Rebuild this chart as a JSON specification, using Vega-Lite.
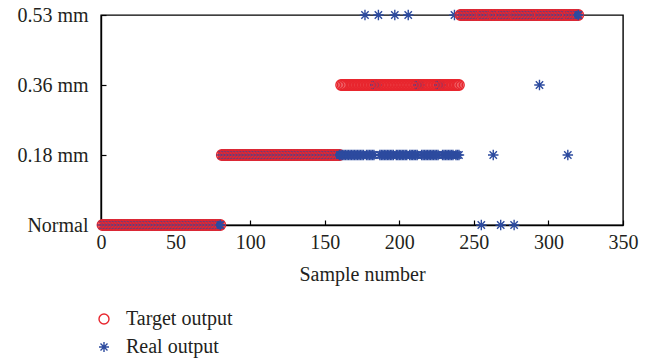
{
"$schema": "https://vega.github.io/schema/vega-lite/v6.json",
"width": 522, "height": 210,
"autosize": {"type": "none"},
"padding": {"left": 101, "top": 15, "right": 35, "bottom": 137},
"background": "white",
"config": {"view": {"stroke": "black", "strokeWidth": 1.4}, "font": "Liberation Serif"},
"data": {"values": [
{"n":1,"t":0,"r":0},{"n":2,"t":0,"r":0},{"n":3,"t":0,"r":0},{"n":4,"t":0,"r":0},{"n":5,"t":0,"r":0},{"n":6,"t":0,"r":0},{"n":7,"t":0,"r":0},{"n":8,"t":0,"r":0},{"n":9,"t":0,"r":0},{"n":10,"t":0,"r":0},
{"n":11,"t":0,"r":0},{"n":12,"t":0,"r":0},{"n":13,"t":0,"r":0},{"n":14,"t":0,"r":0},{"n":15,"t":0,"r":0},{"n":16,"t":0,"r":0},{"n":17,"t":0,"r":0},{"n":18,"t":0,"r":0},{"n":19,"t":0,"r":0},{"n":20,"t":0,"r":0},
{"n":21,"t":0,"r":0},{"n":22,"t":0,"r":0},{"n":23,"t":0,"r":0},{"n":24,"t":0,"r":0},{"n":25,"t":0,"r":0},{"n":26,"t":0,"r":0},{"n":27,"t":0,"r":0},{"n":28,"t":0,"r":0},{"n":29,"t":0,"r":0},{"n":30,"t":0,"r":0},
{"n":31,"t":0,"r":0},{"n":32,"t":0,"r":0},{"n":33,"t":0,"r":0},{"n":34,"t":0,"r":0},{"n":35,"t":0,"r":0},{"n":36,"t":0,"r":0},{"n":37,"t":0,"r":0},{"n":38,"t":0,"r":0},{"n":39,"t":0,"r":0},{"n":40,"t":0,"r":0},
{"n":41,"t":0,"r":0},{"n":42,"t":0,"r":0},{"n":43,"t":0,"r":0},{"n":44,"t":0,"r":0},{"n":45,"t":0,"r":0},{"n":46,"t":0,"r":0},{"n":47,"t":0,"r":0},{"n":48,"t":0,"r":0},{"n":49,"t":0,"r":0},{"n":50,"t":0,"r":0},
{"n":51,"t":0,"r":0},{"n":52,"t":0,"r":0},{"n":53,"t":0,"r":0},{"n":54,"t":0,"r":0},{"n":55,"t":0,"r":0},{"n":56,"t":0,"r":0},{"n":57,"t":0,"r":0},{"n":58,"t":0,"r":0},{"n":59,"t":0,"r":0},{"n":60,"t":0,"r":0},
{"n":61,"t":0,"r":0},{"n":62,"t":0,"r":0},{"n":63,"t":0,"r":0},{"n":64,"t":0,"r":0},{"n":65,"t":0,"r":0},{"n":66,"t":0,"r":0},{"n":67,"t":0,"r":0},{"n":68,"t":0,"r":0},{"n":69,"t":0,"r":0},{"n":70,"t":0,"r":0},
{"n":71,"t":0,"r":0},{"n":72,"t":0,"r":0},{"n":73,"t":0,"r":0},{"n":74,"t":0,"r":0},{"n":75,"t":0,"r":0},{"n":76,"t":0,"r":0},{"n":77,"t":0,"r":0},{"n":78,"t":0,"r":0},{"n":79,"t":0,"r":0},{"n":80,"t":0,"r":0},
{"n":81,"t":1,"r":1},{"n":82,"t":1,"r":1},{"n":83,"t":1,"r":1},{"n":84,"t":1,"r":1},{"n":85,"t":1,"r":1},{"n":86,"t":1,"r":1},{"n":87,"t":1,"r":1},{"n":88,"t":1,"r":1},{"n":89,"t":1,"r":1},{"n":90,"t":1,"r":1},
{"n":91,"t":1,"r":1},{"n":92,"t":1,"r":1},{"n":93,"t":1,"r":1},{"n":94,"t":1,"r":1},{"n":95,"t":1,"r":1},{"n":96,"t":1,"r":1},{"n":97,"t":1,"r":1},{"n":98,"t":1,"r":1},{"n":99,"t":1,"r":1},{"n":100,"t":1,"r":1},
{"n":101,"t":1,"r":1},{"n":102,"t":1,"r":1},{"n":103,"t":1,"r":1},{"n":104,"t":1,"r":1},{"n":105,"t":1,"r":1},{"n":106,"t":1,"r":1},{"n":107,"t":1,"r":1},{"n":108,"t":1,"r":1},{"n":109,"t":1,"r":1},{"n":110,"t":1,"r":1},
{"n":111,"t":1,"r":1},{"n":112,"t":1,"r":1},{"n":113,"t":1,"r":1},{"n":114,"t":1,"r":1},{"n":115,"t":1,"r":1},{"n":116,"t":1,"r":1},{"n":117,"t":1,"r":1},{"n":118,"t":1,"r":1},{"n":119,"t":1,"r":1},{"n":120,"t":1,"r":1},
{"n":121,"t":1,"r":1},{"n":122,"t":1,"r":1},{"n":123,"t":1,"r":1},{"n":124,"t":1,"r":1},{"n":125,"t":1,"r":1},{"n":126,"t":1,"r":1},{"n":127,"t":1,"r":1},{"n":128,"t":1,"r":1},{"n":129,"t":1,"r":1},{"n":130,"t":1,"r":1},
{"n":131,"t":1,"r":1},{"n":132,"t":1,"r":1},{"n":133,"t":1,"r":1},{"n":134,"t":1,"r":1},{"n":135,"t":1,"r":1},{"n":136,"t":1,"r":1},{"n":137,"t":1,"r":1},{"n":138,"t":1,"r":1},{"n":139,"t":1,"r":1},{"n":140,"t":1,"r":1},
{"n":141,"t":1,"r":1},{"n":142,"t":1,"r":1},{"n":143,"t":1,"r":1},{"n":144,"t":1,"r":1},{"n":145,"t":1,"r":1},{"n":146,"t":1,"r":1},{"n":147,"t":1,"r":1},{"n":148,"t":1,"r":1},{"n":149,"t":1,"r":1},{"n":150,"t":1,"r":1},
{"n":151,"t":1,"r":1},{"n":152,"t":1,"r":1},{"n":153,"t":1,"r":1},{"n":154,"t":1,"r":1},{"n":155,"t":1,"r":1},{"n":156,"t":1,"r":1},{"n":157,"t":1,"r":1},{"n":158,"t":1,"r":1},{"n":159,"t":1,"r":1},{"n":160,"t":1,"r":1},
{"n":161,"t":2,"r":1},{"n":162,"t":2,"r":1},{"n":163,"t":2,"r":1},{"n":164,"t":2,"r":1},{"n":165,"t":2,"r":1},{"n":166,"t":2,"r":1},{"n":167,"t":2,"r":1},{"n":168,"t":2,"r":1},{"n":169,"t":2,"r":1},{"n":170,"t":2,"r":1},
{"n":171,"t":2,"r":1},{"n":172,"t":2,"r":1},{"n":173,"t":2,"r":1},{"n":174,"t":2,"r":1},{"n":175,"t":2,"r":1},{"n":176,"t":2,"r":1},{"n":177,"t":2,"r":3},{"n":178,"t":2,"r":1},{"n":179,"t":2,"r":1},{"n":180,"t":2,"r":1},
{"n":181,"t":2,"r":1},{"n":182,"t":2,"r":1},{"n":183,"t":2,"r":1},{"n":184,"t":2,"r":2},{"n":185,"t":2,"r":2},{"n":186,"t":2,"r":3},{"n":187,"t":2,"r":1},{"n":188,"t":2,"r":1},{"n":189,"t":2,"r":1},{"n":190,"t":2,"r":1},
{"n":191,"t":2,"r":1},{"n":192,"t":2,"r":1},{"n":193,"t":2,"r":1},{"n":194,"t":2,"r":1},{"n":195,"t":2,"r":1},{"n":196,"t":2,"r":1},{"n":197,"t":2,"r":3},{"n":198,"t":2,"r":1},{"n":199,"t":2,"r":1},{"n":200,"t":2,"r":1},
{"n":201,"t":2,"r":1},{"n":202,"t":2,"r":1},{"n":203,"t":2,"r":1},{"n":204,"t":2,"r":1},{"n":205,"t":2,"r":1},{"n":206,"t":2,"r":3},{"n":207,"t":2,"r":1},{"n":208,"t":2,"r":1},{"n":209,"t":2,"r":1},{"n":210,"t":2,"r":1},
{"n":211,"t":2,"r":1},{"n":212,"t":2,"r":1},{"n":213,"t":2,"r":2},{"n":214,"t":2,"r":2},{"n":215,"t":2,"r":1},{"n":216,"t":2,"r":1},{"n":217,"t":2,"r":1},{"n":218,"t":2,"r":1},{"n":219,"t":2,"r":1},{"n":220,"t":2,"r":1},
{"n":221,"t":2,"r":1},{"n":222,"t":2,"r":1},{"n":223,"t":2,"r":1},{"n":224,"t":2,"r":1},{"n":225,"t":2,"r":1},{"n":226,"t":2,"r":1},{"n":227,"t":2,"r":2},{"n":228,"t":2,"r":2},{"n":229,"t":2,"r":1},{"n":230,"t":2,"r":1},
{"n":231,"t":2,"r":1},{"n":232,"t":2,"r":1},{"n":233,"t":2,"r":1},{"n":234,"t":2,"r":1},{"n":235,"t":2,"r":1},{"n":236,"t":2,"r":1},{"n":237,"t":2,"r":3},{"n":238,"t":2,"r":1},{"n":239,"t":2,"r":1},{"n":240,"t":2,"r":1},
{"n":241,"t":3,"r":3},{"n":242,"t":3,"r":3},{"n":243,"t":3,"r":3},{"n":244,"t":3,"r":3},{"n":245,"t":3,"r":3},{"n":246,"t":3,"r":3},{"n":247,"t":3,"r":3},{"n":248,"t":3,"r":3},{"n":249,"t":3,"r":3},{"n":250,"t":3,"r":3},
{"n":251,"t":3,"r":3},{"n":252,"t":3,"r":3},{"n":253,"t":3,"r":3},{"n":254,"t":3,"r":3},{"n":255,"t":3,"r":0},{"n":256,"t":3,"r":3},{"n":257,"t":3,"r":3},{"n":258,"t":3,"r":3},{"n":259,"t":3,"r":3},{"n":260,"t":3,"r":3},
{"n":261,"t":3,"r":3},{"n":262,"t":3,"r":3},{"n":263,"t":3,"r":1},{"n":264,"t":3,"r":3},{"n":265,"t":3,"r":3},{"n":266,"t":3,"r":3},{"n":267,"t":3,"r":3},{"n":268,"t":3,"r":0},{"n":269,"t":3,"r":3},{"n":270,"t":3,"r":3},
{"n":271,"t":3,"r":3},{"n":272,"t":3,"r":3},{"n":273,"t":3,"r":3},{"n":274,"t":3,"r":3},{"n":275,"t":3,"r":3},{"n":276,"t":3,"r":3},{"n":277,"t":3,"r":0},{"n":278,"t":3,"r":3},{"n":279,"t":3,"r":3},{"n":280,"t":3,"r":3},
{"n":281,"t":3,"r":3},{"n":282,"t":3,"r":3},{"n":283,"t":3,"r":3},{"n":284,"t":3,"r":3},{"n":285,"t":3,"r":3},{"n":286,"t":3,"r":3},{"n":287,"t":3,"r":3},{"n":288,"t":3,"r":3},{"n":289,"t":3,"r":3},{"n":290,"t":3,"r":3},
{"n":291,"t":3,"r":3},{"n":292,"t":3,"r":3},{"n":293,"t":3,"r":3},{"n":294,"t":3,"r":2},{"n":295,"t":3,"r":3},{"n":296,"t":3,"r":3},{"n":297,"t":3,"r":3},{"n":298,"t":3,"r":3},{"n":299,"t":3,"r":3},{"n":300,"t":3,"r":3},
{"n":301,"t":3,"r":3},{"n":302,"t":3,"r":3},{"n":303,"t":3,"r":3},{"n":304,"t":3,"r":3},{"n":305,"t":3,"r":3},{"n":306,"t":3,"r":3},{"n":307,"t":3,"r":3},{"n":308,"t":3,"r":3},{"n":309,"t":3,"r":3},{"n":310,"t":3,"r":3},
{"n":311,"t":3,"r":3},{"n":312,"t":3,"r":3},{"n":313,"t":3,"r":1},{"n":314,"t":3,"r":3},{"n":315,"t":3,"r":3},{"n":316,"t":3,"r":3},{"n":317,"t":3,"r":3},{"n":318,"t":3,"r":3},{"n":319,"t":3,"r":3},{"n":320,"t":3,"r":3}
]},
"transform": [{"fold": ["t", "r"], "as": ["series", "cls"]}],
"mark": {"type": "point", "filled": false, "strokeWidth": 1.4, "size": 110, "opacity": 1},
"encoding": {
  "x": {"field": "n", "type": "quantitative",
    "scale": {"domain": [0, 350], "nice": false, "zero": false},
    "axis": {"values": [0, 50, 100, 150, 200, 250, 300, 350], "title": "Sample number", "grid": false,
      "tickSize": -5, "tickColor": "black", "domainColor": "black", "domainWidth": 1.4, "tickWidth": 1.2,
      "labelFontSize": 20, "labelColor": "#231f20", "labelPadding": 12, "labelFlush": false,
      "titleFontSize": 20, "titleFontWeight": "normal", "titleColor": "#231f20", "titlePadding": 12}},
  "y": {"field": "cls", "type": "quantitative",
    "scale": {"domain": [0, 3], "nice": false},
    "axis": {"values": [0, 1, 2, 3], "labelExpr": "['Normal','0.18 mm','0.36 mm','0.53 mm'][datum.value]",
      "title": null, "grid": false, "tickSize": -5, "tickColor": "black", "domainColor": "black", "domainWidth": 1.4, "tickWidth": 1.2,
      "labelFontSize": 20, "labelColor": "#231f20", "labelPadding": 18, "labelFlush": false}},
  "color": {"field": "series", "type": "nominal",
    "scale": {"domain": ["t", "r"], "range": ["#e8262e", "#2d4b9f"]},
    "legend": {"orient": "none", "legendX": -7, "legendY": 294, "title": null, "padding": 0,
      "labelExpr": "datum.label == 't' ? 'Target output' : 'Real output'",
      "labelFontSize": 20, "labelColor": "#231f20", "labelOffset": 12, "rowPadding": 8, "symbolSize": 100, "symbolStrokeWidth": 1.4}},
  "shape": {"field": "series", "type": "nominal",
    "scale": {"domain": ["t", "r"], "range": ["circle", "M-1,0H1M0,-1V1M-0.7,-0.7L0.7,0.7M-0.7,0.7L0.7,-0.7"]},
    "legend": {"orient": "none", "legendX": -7, "legendY": 294, "title": null, "padding": 0,
      "labelExpr": "datum.label == 't' ? 'Target output' : 'Real output'",
      "labelFontSize": 20, "labelColor": "#231f20", "labelOffset": 12, "rowPadding": 8, "symbolSize": 100, "symbolStrokeWidth": 1.4}}
}
}
